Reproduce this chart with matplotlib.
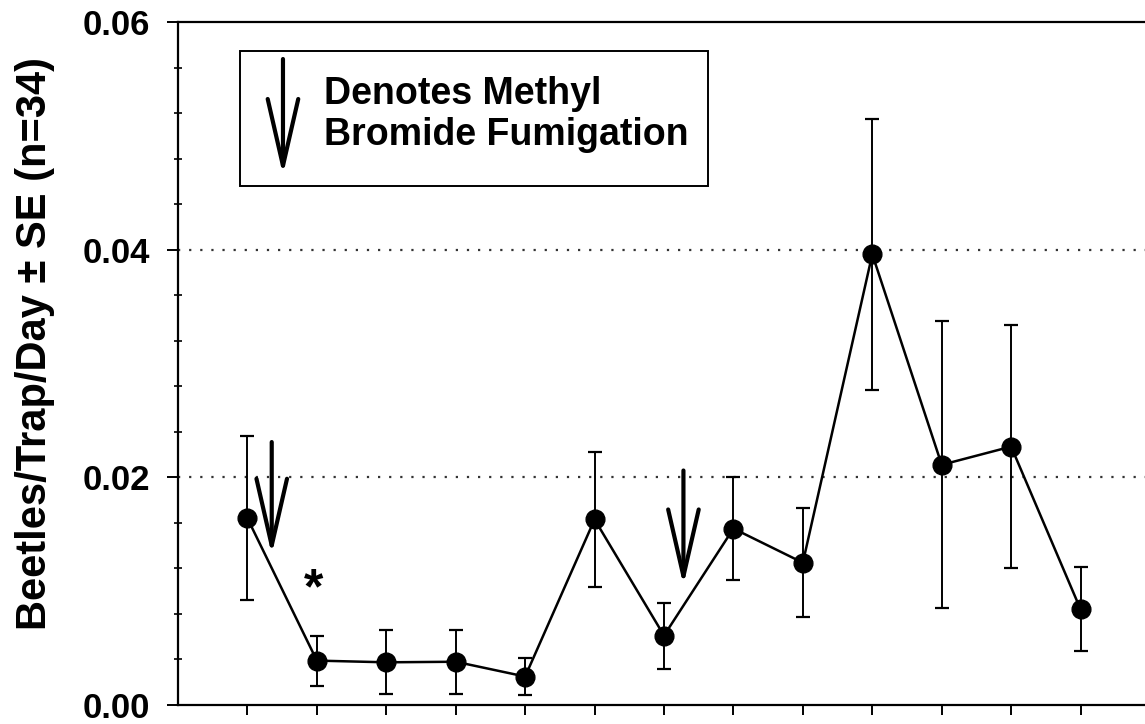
import matplotlib
matplotlib.use("Agg")
import matplotlib.pyplot as plt
from matplotlib.patches import Rectangle
import numpy as np

plt.rcParams['font.family'] = ['Liberation Sans', 'DejaVu Sans']
plt.rcParams['font.weight'] = 'bold'

# sampling dates (index only, axis is unlabeled)
sample_idx = np.arange(1, 14)
# mean beetles per trap per day and standard error (n=34 traps)
beetles_mean = [0.0164, 0.0039, 0.00375, 0.0038, 0.0025, 0.0163, 0.0061,
                0.0155, 0.0125, 0.0396, 0.0211, 0.0227, 0.0084]
beetles_se = [0.0072, 0.0022, 0.0028, 0.0028, 0.0016, 0.0059, 0.0029,
              0.0045, 0.0048, 0.0119, 0.0126, 0.0107, 0.0037]
# methyl bromide fumigations: (x, arrow top, arrow tip)
fumigation_x = [1.35, 7.28]
fumigation_top = [0.0231, 0.0206]
fumigation_tip = [0.0132, 0.0105]
# significant drop after first fumigation
star_x, star_y = 1.95, 0.0101

y_ticks = [0.0, 0.02, 0.04, 0.06]
y_ticklabels = ["0.00", "0.02", "0.04", "0.06"]
y_minor = [0.004, 0.008, 0.012, 0.016, 0.024, 0.028, 0.032, 0.036,
           0.044, 0.048, 0.052, 0.056]

fig = plt.figure(figsize=(11.45, 7.24), dpi=100)
ax = fig.add_axes([178 / 1145, 19 / 724, 972 / 1145, 683 / 724])

ax.errorbar(sample_idx, beetles_mean, yerr=beetles_se, color="black",
            lw=1.8, marker="o", markersize=13.5, capsize=5, capthick=1.6,
            elinewidth=1.4, zorder=3)

arrow_style = dict(arrowstyle="->,head_length=2.4,head_width=0.55",
                   lw=3.0, color="black", mutation_scale=20,
                   shrinkA=0, shrinkB=0)
for x, y0, y1 in zip(fumigation_x, fumigation_top, fumigation_tip):
    ax.annotate("", xy=(x, y1), xytext=(x, y0), arrowprops=arrow_style)

ax.text(star_x, star_y, "*", fontsize=36, fontweight="bold", ha="center", va="center")

# legend box
ax.add_patch(Rectangle((0.0638, 0.7599), 0.4815, 0.1976, transform=ax.transAxes,
                       fill=False, edgecolor="black", lw=1.4, zorder=4))
ax.annotate("", xy=(0.108, 0.776), xytext=(0.108, 0.9458),
            xycoords="axes fraction", textcoords="axes fraction",
            arrowprops=arrow_style)
ax.text(0.150, 0.880, "Denotes Methyl", transform=ax.transAxes,
        fontsize=27, fontweight="bold", va="baseline")
ax.text(0.150, 0.820, "Bromide Fumigation", transform=ax.transAxes,
        fontsize=27, fontweight="bold", va="baseline")

# dotted reference lines
for yg in [0.02, 0.04]:
    ax.axhline(yg, color="#333333", lw=1.6, linestyle=(0, (1, 4)), zorder=1)

ax.set_xlim(0, 14)
ax.set_ylim(0, 0.06)
ax.set_xticks(range(1, 14))
ax.set_xticklabels([])
ax.set_yticks(y_ticks)
ax.set_yticklabels(y_ticklabels)
ax.set_yticks(y_minor, minor=True)

for s in ax.spines.values():
    s.set_linewidth(1.6)

ax.tick_params(axis="y", which="major", direction="out", length=8, width=1.4,
               labelsize=25, pad=12, right=True)
ax.tick_params(axis="y", which="minor", direction="inout", length=6, width=1.2,
               right=True)
ax.tick_params(axis="x", which="major", direction="out", length=7, width=1.4)
for t in ax.get_yticklabels():
    t.set_fontweight("bold")

ax.set_ylabel("Beetles/Trap/Day \u00b1 SE (n=34)", fontsize=30, fontweight="bold")
ax.yaxis.set_label_coords(-123 / 972, 0.53)

fig.savefig("out.png", dpi=100)
